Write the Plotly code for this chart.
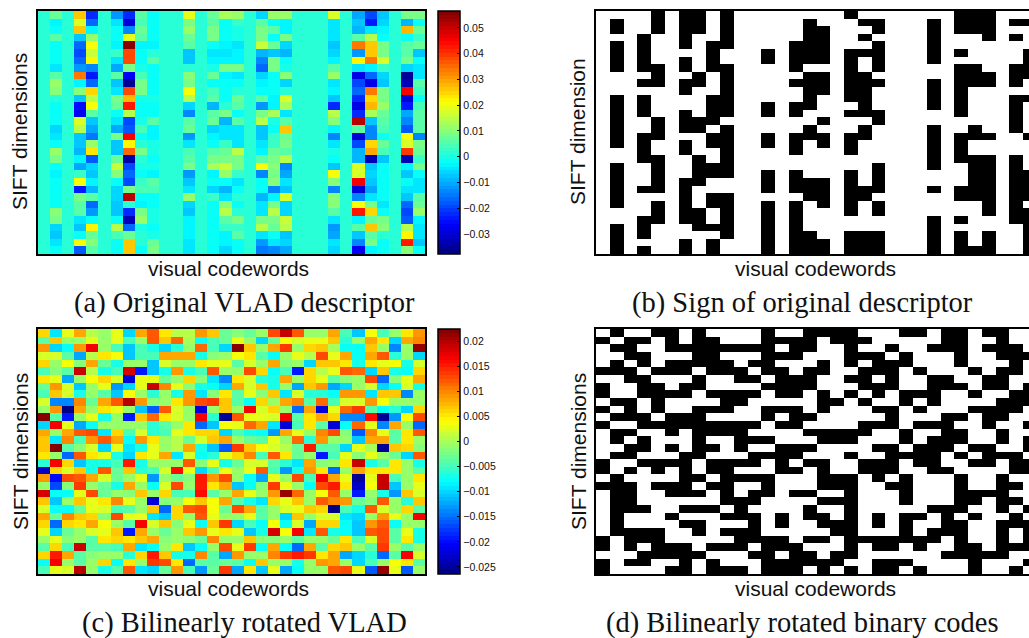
import numpy as np
import plotly.graph_objects as go

W, H = 1029, 638

# (a) original VLAD descriptor, 1e-3 units, one list per codeword column
flat_a = [2, 2, 2, 1, 2, 2, 2, 2, 1, 2, 2, 2, 2, 1, 2, 2, 2, 2, 2, 1, 2, 2, 2, 2, 1, 2, 2, 2, 2, 2, 1, 2]
col_a_01 = [7,-3,-1,5,-1,-2,-2,-4,6,12,10,1,-2,-2,-1,-6,-5,-1,11,9,-1,-3,-2,-1,-2,-1,10,8,-6,-7,-4,-1]
col_a_03 = [27,17,27,-8,-17,-20,-17,-12,33,-3,10,-7,-25,-27,18,15,-8,-8,-9,-3,-11,3,20,-24,9,6,6,-4,-8,-2,21,-18]
col_a_04 = [-23,-17,-3,11,21,16,22,-14,-24,-17,25,14,21,5,-8,-10,-15,11,24,-18,-6,-8,-3,-9,5,-17,-12,-2,22,7,10,6]
col_a_06 = [-12,-4,-1,-1,-3,3,-5,-10,6,-7,-4,9,7,-2,-4,-11,8,-8,-8,7,16,10,-2,-6,-6,-7,-8,-1,15,4,-1,-2]
col_a_07 = [-22,-30,-14,19,56,38,38,8,-27,-36,38,28,43,14,-19,-18,45,22,35,-34,-20,-16,-20,8,51,1,-22,-32,-16,7,26,26]
col_a_08 = [5,4,7,6,-3,-1,-1,0,4,8,8,0,-2,-1,0,4,-1,1,9,1,0,-2,3,4,-1,-3,8,11,0,2,1,-1]
col_a_09 = [-2,-2,-1,-1,-3,1,5,-1,-2,-1,-1,0,-1,-1,5,-3,-3,0,0,-1,0,-3,6,4,-2,-1,0,0,-1,0,7,9]
col_a_12 = [19,8,12,7,6,-7,-8,2,10,8,21,14,-6,-14,6,7,-12,-4,4,6,8,-12,-8,-5,12,-6,-8,-3,-3,-3,-4,-4]
col_a_14 = [7,6,8,8,-1,-4,-3,0,7,-1,4,5,-9,6,7,-6,-3,-1,5,8,13,-3,-1,-6,3,-1,-1,-2,-1,-1,-1,-1]
col_a_15 = [13,-1,-1,-1,-3,-5,-3,8,-3,-1,-2,-2,1,9,-9,-5,-4,3,7,8,16,11,-1,-9,-4,10,15,5,3,-3,-3,-6]
col_a_16 = [11,3,0,0,-4,-3,-3,8,-4,-1,1,7,5,-1,6,-4,-5,-4,14,9,9,3,-4,-2,1,-2,2,9,3,5,-2,-1]
col_a_18 = [-6,5,8,8,16,-9,-13,-16,-6,-3,-2,5,-12,8,15,-8,-8,-5,-3,6,20,-13,-2,-1,-9,-5,-4,9,15,-4,-12,-15]
col_a_19 = [11,-1,5,-1,7,-8,9,8,-2,-1,-1,-3,-3,13,0,-1,3,3,7,8,10,9,10,-13,-3,8,15,8,7,-1,-4,-14]
col_a_20 = [11,-3,-3,9,-6,-9,-1,0,10,-6,2,18,13,-4,5,26,7,8,6,14,-14,-10,-5,-8,18,-6,-6,16,15,-7,-6,-10]
col_a_24 = [18,-5,-4,-4,-7,-6,-3,5,12,-5,-3,-7,-23,14,10,-3,-13,-4,0,-1,-7,21,10,-13,10,10,5,-4,-12,-11,-4,-6]
col_a_26 = [-10,-8,-9,5,33,-12,22,-5,-28,-20,-17,-23,-28,-22,51,5,-29,-20,-9,-9,17,18,46,-29,-13,20,42,-3,5,-8,-13,-27]
col_a_27 = [-20,-24,-5,14,27,26,34,-3,-16,-28,34,25,28,13,-7,-13,-13,25,30,-33,-8,-6,-8,-11,-4,9,25,7,27,5,8,-3]
col_a_28 = [-7,-6,-3,-2,8,8,17,3,-6,-8,8,8,11,7,6,4,-2,7,4,-7,-2,-2,-1,-1,-2,-4,-1,8,10,1,-1,-2]
col_a_30 = [8,-9,28,-2,5,5,9,-6,-36,-33,45,-29,-24,-10,-13,-18,21,18,40,-33,-3,-7,-2,-4,-7,-17,-19,-18,15,22,42,10]
col_a_31 = [8,-2,7,3,7,-7,-1,-4,-5,6,3,-2,4,6,6,6,-13,8,7,3,8,-2,-5,-5,5,7,12,-3,-5,-4,-7,-2]
cols_a = [flat_a, col_a_01, flat_a, col_a_03, col_a_04, flat_a, col_a_06, col_a_07, col_a_08, col_a_09,
          flat_a, flat_a, col_a_12, flat_a, col_a_14, col_a_15, col_a_16, flat_a, col_a_18, col_a_19,
          col_a_20, flat_a, flat_a, flat_a, col_a_24, flat_a, col_a_26, col_a_27, col_a_28, flat_a,
          col_a_30, col_a_31]

# (b) sign of original descriptor: rows that are black in each column, as (first, last) runs
runs_b = [
    [], [(1,2),(4,7),(11,17),(20,25),(28,31)], [], [(3,7),(9,9),(11,13),(16,19),(23,23),(27,29),(31,31)],
    [(0,2),(7,9),(14,16),(19,23),(25,27)], [], [(0,4),(6,7),(9,10),(13,15),(17,18),(22,27),(30,31)],
    [(0,2),(8,9),(14,15),(19,22),(26,28)], [(4,7),(11,14),(16,17),(20,21),(24,25),(28,28),(30,31)],
    [(0,4),(7,13),(15,21),(24,29)], [], [], [(5,6),(12,13),(16,17),(21,23),(25,31)], [],
    [(4,7),(9,9),(12,13),(16,18),(21,23),(25,31)], [(1,6),(8,12),(15,16),(22,24),(29,31)],
    [(2,6),(8,10),(14,14),(16,17),(22,25),(30,31)], [], [(0,0),(5,11),(13,13),(16,18),(21,26),(29,31)],
    [(1,1),(3,3),(5,5),(8,13),(15,16),(23,24),(29,31)], [(1,2),(4,7),(9,9),(13,14),(20,23),(25,26),(29,31)],
    [], [], [], [(1,6),(9,12),(15,20),(23,23),(27,31)], [], [(0,2),(5,5),(7,13),(16,19),(23,24),(27,27),(29,31)],
    [(0,2),(7,9),(15,16),(19,24),(31,31)], [(0,3),(8,9),(16,16),(19,26),(29,31)], [],
    [(1,1),(3,3),(7,9),(11,15),(19,27)], [(1,1),(5,8),(11,11),(16,16),(21,24),(26,27),(28,31)],
]

# (c) bilinearly rotated VLAD, 1e-3 units, one list per SIFT row
rows_c = [
    [6,-9,3,8,1,-1,3,-10,8,12,5,1,1,9,7,-3, -2,-3,-1,13,19,12,-1,-1,8,-5,-11,4,-5,-1,5,9],
    [-4,7,-1,-1,3,-1,3,-5,-1,12,7,11,0,-8,-5,-3, 3,-1,-10,-3,4,2,3,3,7,-6,-1,8,5,-10,8,10],
    [9,-10,-8,9,17,-1,-5,-11,-5,-7,-10,-6,-1,11,-5,-10, 22,7,-1,8,14,-1,6,7,0,-8,-8,7,-1,-14,-1,21],
    [2,2,-4,-12,1,5,4,-11,-5,-5,8,8,8,-7,-2,-1, 4,5,-4,-8,-1,3,1,13,3,8,-8,8,12,-6,-1,-10],
    [6,-1,4,-2,8,-3,-7,-1,-1,-11,2,-1,-1,5,3,3, -4,2,-1,8,-2,-1,-10,7,7,5,-7,5,3,4,-7,2],
    [-5,-2,-4,19,1,-7,-5,18,-19,-11,-7,9,-7,-5,12,-1, -1,13,6,-8,-5,-19,6,1,3,12,11,-10,7,-7,-8,6],
    [5,3,-12,-1,4,6,2,-22,3,3,-3,-1,6,-2,-9,-14, 5,2,-6,-7,8,-1,6,3,-4,-2,-1,13,-15,-2,3,8],
    [-3,9,2,-11,-1,3,-13,-10,3,19,10,3,-2,-7,-8,-10, 8,2,7,-7,-1,-12,7,9,-12,-10,-1,2,-10,-8,2,-7],
    [-5,7,2,-7,-1,-4,-11,4,-1,-6,-1,-7,9,-9,-2,5, -4,3,-2,7,-9,2,-6,-6,-8,9,9,-9,7,7,-14,-1],
    [2,-14,-14,10,-3,8,12,20,9,-2,-1,5,9,13,14,7, -4,-8,6,-1,8,10,-4,11,-5,2,2,9,4,-1,-1,-1],
    [-1,9,-26,8,-1,5,3,-1,-11,-16,12,2,-1,-22,-1,7, -1,17,2,6,-1,-15,8,-22,3,11,14,-4,-8,-6,-10,6],
    [22,-4,-19,-1,3,-7,-1,-19,7,11,5,2,-1,17,-6,-25, 12,3,3,2,17,-4,5,8,6,-14,-14,16,-25,-13,4,13],
    [-10,17,3,-12,-8,-1,-1,-1,-1,-6,-4,-1,5,-15,-11,4, 3,11,8,-9,-22,-5,5,-4,-22,-8,11,3,-14,8,-1,-15],
    [8,-1,8,12,13,-9,6,-5,2,-6,-5,3,5,6,6,-10, -5,-7,-8,-13,8,3,-1,10,13,-2,-16,10,3,-4,5,12],
    [7,-9,10,-5,9,12,8,-8,9,5,-1,1,-3,2,7,8, -1,-3,-4,3,-1,11,-6,9,-1,-1,-11,8,8,-4,5,-1],
    [7,22,-4,-2,2,-10,3,-9,-7,3,-1,1,8,-7,-11,-16, 14,7,4,2,1,-3,15,-4,-4,-10,3,0,-25,7,6,-2],
    [5,-1,-15,12,5,3,-7,-10,5,3,8,-9,2,-8,-6,3, 6,10,-5,12,5,-3,-1,-19,-5,3,-2,3,-1,-3,-10,12],
    [-6,17,6,-11,-7,-7,-5,15,-7,-1,-1,-1,12,-2,3,-7, -3,2,2,-4,-6,-9,8,-2,-1,5,19,-7,-4,5,-1,-7],
    [-23,6,2,7,-7,12,-3,7,-6,-5,2,16,3,-10,-5,3, -1,3,12,-5,-13,-7,9,5,-15,-1,8,5,5,5,-1,-4],
    [9,-20,13,12,8,2,-3,-1,3,-13,-1,-3,-2,15,9,13, -1,-8,-12,3,-1,13,-5,17,8,3,-25,3,19,-5,-1,5],
    [-1,-17,-2,14,-1,-3,-7,8,-1,-8,2,13,-1,15,5,8, -11,-8,-2,14,3,-1,-8,13,15,5,-23,4,19,-11,-1,3],
    [18,-8,-8,3,13,-3,-1,-2,7,-1,6,-5,-5,16,-4,-1, 8,3,-1,9,21,11,-1,4,12,-1,-19,-1,-7,-13,7,2],
    [7,-11,-1,7,3,5,10,3,-1,-22,-2,-1,4,7,4,8, -4,-7,-9,6,3,7,-1,12,10,9,-3,-2,12,-1,-6,7],
    [2,-8,-8,-3,3,2,-5,-4,-1,7,-15,6,12,13,4,-3, 13,8,-4,-1,2,3,7,6,-26,-5,-7,12,2,-1,6,-4],
    [8,-3,10,7,6,-2,13,3,3,-9,-11,6,-1,12,3,-1, -1,3,-4,-1,-10,7,-1,2,2,-9,-10,-1,9,3,-1,17],
    [6,-15,6,5,8,4,-1,-4,17,2,7,-2,3,-8,7,14, -10,-5,-8,4,-8,2,-12,6,6,-8,-11,9,12,-8,-1,-1],
    [3,-10,-3,-1,2,3,7,-19,8,-1,-3,-1,7,9,3,5, 3,-11,-7,18,4,17,-9,12,-7,-8,-11,12,13,-4,3,-7],
    [-1,3,-2,-1,-4,5,6,5,7,8,-2,-1,-2,-3,10,-1, -1,7,-2,-2,-1,-4,-1,-1,-3,5,-5,2,13,-4,5,-7],
    [-4,6,-5,19,-4,-4,-5,8,-9,-8,-1,5,-11,-8,-1,13, 3,14,-8,8,-8,-15,8,-4,6,7,-1,-4,14,-1,-4,-1],
    [6,15,8,-4,-2,-1,-1,-6,6,15,7,-7,-7,10,-4,-12, 9,-1,-1,10,14,15,14,5,8,-12,-10,-6,-15,-4,17,2],
    [-8,17,-1,-4,-1,6,-8,5,-1,14,13,5,-15,-4,-4,-3, -4,-8,7,-1,-1,-7,-1,9,8,-1,-10,-5,-1,4,5,-4],
    [-5,3,2,20,-1,-7,-4,12,-9,-10,-3,9,-5,-13,-3,14, -12,5,-11,3,-12,-8,-1,-1,12,13,3,-16,21,3,-16,-1],
]

# (d) bilinearly rotated binary codes: 1 is a black cell
rows_d = [
    "01001101000010011110001101101100", "10110101100011110111000001100100",
    "01100111111110110010010011101110", "00110001100011100011101000100111",
    "01010111110110001010111000100010", "11101110111011011001110100010110",
    "00110001001101110011010011001100", "10011011000011110001110011101101",
    "10011110111101101010101110010011", "01101000011000001101001010000111",
    "10101001110011101000110100011110", "01110111000010110000010001101100",
    "10011111111101100001110111001001", "01100101111000011111001001100100",
    "01010001001110001110001011100101", "00110101101001110000110111011001",
    "01100011000111100010011110101110", "10011110111101011001110110011011",
    "10101010110001101001110011000011", "01000011011110001110101000100100",
    "11101110110010001110011000100110", "01100111010110110010001000111100",
    "01100000011100001110001000110110", "01110011101000010010000011100101",
    "01000100011101011010101101010010", "01000011000101001110101001100111",
    "01111001011100000110001011100101", "10111000001111011011111110100101",
    "10101110111011100010110100110111", "00011111000110110110000001111100",
    "10110010100011111100111000010001", "10000110111011101010110100010010",
]

ticks_a = [-0.03, -0.02, -0.01, 0, 0.01, 0.02, 0.03, 0.04, 0.05]
labels_a = ["\u22120.03", "\u22120.02", "\u22120.01", "0", "0.01", "0.02", "0.03", "0.04", "0.05"]
ticks_c = [-0.025, -0.02, -0.015, -0.01, -0.005, 0, 0.005, 0.01, 0.015, 0.02]
labels_c = ["\u22120.025", "\u22120.02", "\u22120.015", "\u22120.01", "\u22120.005", "0", "0.005", "0.01", "0.015", "0.02"]
range_a = (-0.0378, 0.0566)
range_c = (-0.0264, 0.0224)

captions = ["(a) Original VLAD descriptor", "(b) Sign of original descriptor",
            "(c) Bilinearly rotated VLAD", "(d) Bilinearly rotated binary codes"]
ylabels = ["SIFT dimensions", "SIFT dimension", "SIFT dimensions", "SIFT dimensions"]
xlabel = "visual codewords"

z_a = np.array(cols_a, dtype=float).T * 1e-3
z_c = np.array(rows_c, dtype=float) * 1e-3
z_b = np.zeros((32, 32))
for c, runs in enumerate(runs_b):
    for first, last in runs:
        z_b[first:last + 1, c] = 1
z_d = np.array([[int(ch) for ch in row] for row in rows_d])


def jet_level(i, n=64):
    p = (i + 0.5) / n
    f = lambda c: int(round(255 * min(1, max(0, 1.5 - abs(4 * p - c)))))
    return f"rgb({f(3)},{f(2)},{f(1)})"


jet = []
for i in range(64):
    jet.append([i / 64, jet_level(i)])
    jet.append([(i + 1) / 64, jet_level(i)])
binary = [[0, "white"], [1, "black"]]

fig = go.Figure()
boxes = [(38, 425, 11, 254), (596, 1029, 11, 254), (38, 425, 329, 574), (596, 1029, 329, 574)]
CW_B = 13.77  # on-screen width of a column in the right-hand panels, which run off the page


def colorbar(ticks, labels, top, bottom):
    return dict(x=438 / W, xanchor="left", xpad=0, ypad=0, thickness=22, thicknessmode="pixels",
                y=1 - (top + bottom) / 2 / H, yanchor="middle", len=(bottom - top) / H, lenmode="fraction",
                tickmode="array", tickvals=ticks, ticktext=labels, ticks="inside", ticklen=3,
                tickcolor="black", tickwidth=1, outlinecolor="black", outlinewidth=1.5,
                tickfont=dict(family="Liberation Sans", size=10.5, color="#111"))


traces = [
    go.Heatmap(z=z_a, colorscale=jet, zmin=range_a[0], zmax=range_a[1],
               colorbar=colorbar(ticks_a, labels_a, 11, 254)),
    go.Heatmap(z=z_b, colorscale=binary, zmin=0, zmax=1, showscale=False),
    go.Heatmap(z=z_c, colorscale=jet, zmin=range_c[0], zmax=range_c[1],
               colorbar=colorbar(ticks_c, labels_c, 329, 574)),
    go.Heatmap(z=z_d, colorscale=binary, zmin=0, zmax=1, showscale=False),
]

layout = dict(width=W, height=H, margin=dict(l=0, r=0, t=0, b=0, autoexpand=False),
              paper_bgcolor="white", plot_bgcolor="white", showlegend=False)
ann = []
label_y = [268, 268, 588, 588]
cap_y = [303, 303, 623, 623]
cap_x = [244, 802, 244, 802]
lab_x = [228, 815, 228, 815]
side_x = [20, 578, 20, 578]
side_y = [132, 132, 452, 452]
for i, (tr, box) in enumerate(zip(traces, boxes)):
    n = i + 1
    sx = "" if i == 0 else str(n)
    tr.update(xaxis=f"x{sx}", yaxis=f"y{sx}", zsmooth=False, hoverinfo="skip")
    fig.add_trace(tr)
    x0, x1, y0, y1 = box
    right = 31.5 if i % 2 == 0 else -0.5 + (x1 - x0) / CW_B
    layout[f"xaxis{sx}"] = dict(domain=[x0 / W, x1 / W], range=[-0.5, right], showticklabels=False,
                                ticks="", showgrid=False, zeroline=False, showline=True,
                                linecolor="black", linewidth=1.5, mirror=True, anchor=f"y{sx}")
    layout[f"yaxis{sx}"] = dict(domain=[1 - y1 / H, 1 - y0 / H], range=[31.5, -0.5], showticklabels=False,
                                ticks="", showgrid=False, zeroline=False, showline=True,
                                linecolor="black", linewidth=1.5, mirror=(i % 2 == 0), anchor=f"x{sx}")
    sans = dict(family="Liberation Sans", size=21, color="#111")
    ann.append(dict(text=xlabel, x=lab_x[i] / W, y=1 - label_y[i] / H, xref="paper", yref="paper",
                    showarrow=False, xanchor="center", yanchor="middle", font=sans))
    ann.append(dict(text=ylabels[i], x=side_x[i] / W, y=1 - side_y[i] / H, xref="paper", yref="paper",
                    showarrow=False, xanchor="center", yanchor="middle", textangle=-90, font=sans))
    ann.append(dict(text=captions[i], x=cap_x[i] / W, y=1 - cap_y[i] / H, xref="paper", yref="paper",
                    showarrow=False, xanchor="center", yanchor="middle",
                    font=dict(family="Liberation Serif", size=28.5, color="#111")))
layout["annotations"] = ann
fig.update_layout(**layout)
fig.write_html("out.html", config={"displayModeBar": False},
               post_script="document.body.style.margin='0';document.body.style.overflow='hidden';")
